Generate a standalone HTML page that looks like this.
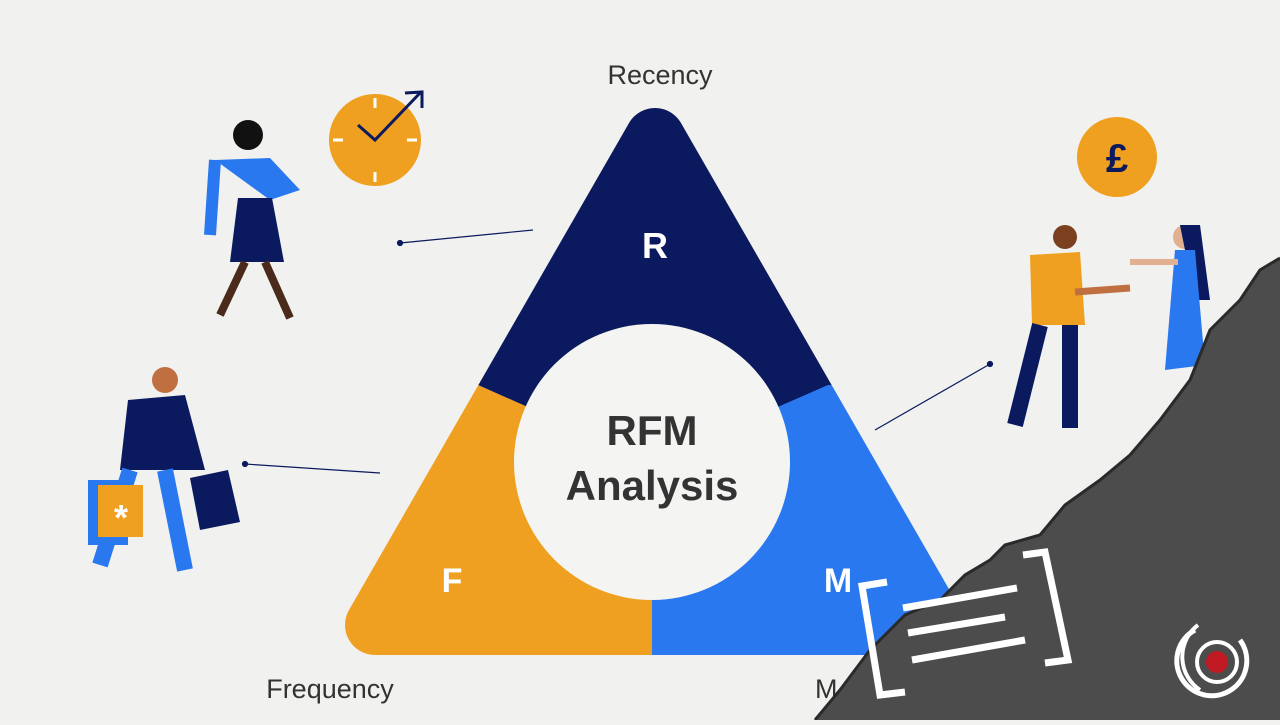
<!DOCTYPE html><html><head><style>body{margin:0;width:1280px;height:720px;overflow:hidden;background:#f2f2f0;font-family:"Liberation Sans","DejaVu Sans",sans-serif}</style></head><body>
<svg width="1280" height="720" viewBox="0 0 1280 720" xmlns="http://www.w3.org/2000/svg">
<rect width="1280" height="720" fill="#f1f1ef"/>
<defs>
<mask id="tri"><rect width="1280" height="720" fill="black"/>
<polygon points="655,138 375,625 935,625" fill="white" stroke="white" stroke-width="60" stroke-linejoin="round"/></mask>
</defs>
<g mask="url(#tri)">
<rect x="300" y="90" width="700" height="580" fill="#2a78f0"/>
<polygon points="300,90 1000,90 1000,385 828,385 652,462 478,385 300,385" fill="#0b1a5e"/>
<polygon points="300,385 478,385 652,462 652,680 300,680" fill="#f0a020"/>
</g>
<circle cx="652" cy="462" r="138" fill="#f4f4f2"/>
<text x="652" y="445" font-size="42" font-weight="bold" fill="#333" text-anchor="middle">RFM</text>
<text x="652" y="500" font-size="42" font-weight="bold" fill="#333" text-anchor="middle">Analysis</text>
<text x="655" y="258" font-size="36" font-weight="bold" fill="#fff" text-anchor="middle">R</text>
<text x="452" y="592" font-size="34" font-weight="bold" fill="#fff" text-anchor="middle">F</text>
<text x="838" y="592" font-size="34" font-weight="bold" fill="#fff" text-anchor="middle">M</text>
<text x="660" y="84" font-size="27" fill="#333" text-anchor="middle">Recency</text>
<text x="330" y="698" font-size="27" fill="#333" text-anchor="middle">Frequency</text>
<text x="815" y="698" font-size="27" fill="#333">M</text>
<g stroke="#0b1a5e" stroke-width="1.2" fill="#0b1a5e"><line x1="400" y1="243" x2="533" y2="230"/><circle cx="400" cy="243" r="2.5"/>
<line x1="245" y1="464" x2="380" y2="473"/><circle cx="245" cy="464" r="2.5"/>
<line x1="875" y1="430" x2="990" y2="364"/><circle cx="990" cy="364" r="2.5"/></g>
<circle cx="375" cy="140" r="46" fill="#f0a020"/>
<g stroke="#fff" stroke-width="3"><line x1="375" y1="98" x2="375" y2="108"/><line x1="375" y1="172" x2="375" y2="182"/><line x1="333" y1="140" x2="343" y2="140"/><line x1="407" y1="140" x2="417" y2="140"/></g>
<polyline points="358,125 375,140 420,93" fill="none" stroke="#0b1a5e" stroke-width="3"/><polyline points="405,93 422,92 422,108" fill="none" stroke="#0b1a5e" stroke-width="3"/>
<circle cx="1117" cy="157" r="40" fill="#f0a020"/><text x="1117" y="172" font-size="40" font-weight="bold" fill="#0b1a5e" text-anchor="middle">£</text>
<circle cx="248" cy="135" r="15" fill="#111"/>
<path d="M215 160 L270 158 L300 190 L270 200 Z" fill="#2a78f0"/>
<path d="M215 160 L210 235" stroke="#2a78f0" stroke-width="12"/>
<path d="M238 198 L272 198 L284 262 L230 262 Z" fill="#0b1a5e"/>
<path d="M245 262 L220 315 M265 262 L290 318" stroke="#4a2a1a" stroke-width="8"/>
<circle cx="165" cy="380" r="13" fill="#c07040"/>
<path d="M128 400 L185 395 L205 470 L120 470 Z" fill="#0b1a5e"/>
<path d="M130 470 L100 565 M165 470 L185 570" stroke="#2a78f0" stroke-width="16"/>
<rect x="88" y="480" width="40" height="65" fill="#2a78f0"/><rect x="98" y="485" width="45" height="52" fill="#f0a020"/>
<text x="121" y="530" font-size="36" font-weight="bold" fill="#fff" text-anchor="middle">*</text>
<polygon points="190,478 228,470 240,522 200,530" fill="#0b1a5e"/>
<circle cx="1065" cy="237" r="12" fill="#7a4020"/>
<path d="M1030 255 L1080 252 L1085 325 L1032 325 Z" fill="#f0a020"/>
<path d="M1075 292 L1130 288" stroke="#c07040" stroke-width="7"/>
<path d="M1040 325 L1015 425 M1070 325 L1070 428" stroke="#0b1a5e" stroke-width="16"/>
<circle cx="1185" cy="237" r="12" fill="#e0b090"/>
<path d="M1180 225 L1200 225 L1210 300 L1195 300 Z" fill="#0b1a5e"/>
<path d="M1175 250 L1195 250 L1205 365 L1165 370 Z" fill="#2a78f0"/>
<path d="M1178 262 L1130 262" stroke="#e0b090" stroke-width="6"/>
<polygon points="815,720 840,690 870,650 905,615 940,600 965,575 990,560 1005,545 1040,535 1065,505 1100,480 1130,455 1160,420 1190,380 1210,330 1240,300 1260,270 1280,258 1280,720" fill="#4c4c4c"/>
<polyline points="815,720 840,690 870,650 905,615 940,600 965,575 990,560 1005,545 1040,535 1065,505 1100,480 1130,455 1160,420 1190,380 1210,330 1240,300 1260,270 1280,258" fill="none" stroke="#2a2a2a" stroke-width="3"/>
<g stroke="#fff" stroke-width="7" fill="none">
<polyline points="887,582 862,586 880,695 905,692"/>
<polyline points="1023,555 1045,552 1068,660 1045,663"/>
<line x1="903" y1="608" x2="1017" y2="588"/><line x1="908" y1="633" x2="1005" y2="617"/><line x1="912" y1="660" x2="1025" y2="640"/>
</g>
<circle cx="1217" cy="662" r="11" fill="#c21a24"/>
<path d="M1195 630 A35 35 0 1 0 1240 640" fill="none" stroke="#fff" stroke-width="5"/>
<path d="M1198 625 A40 40 0 0 0 1200 690" fill="none" stroke="#fff" stroke-width="4"/>
<circle cx="1217" cy="662" r="20" fill="none" stroke="#fff" stroke-width="4"/>
</svg></body></html>
